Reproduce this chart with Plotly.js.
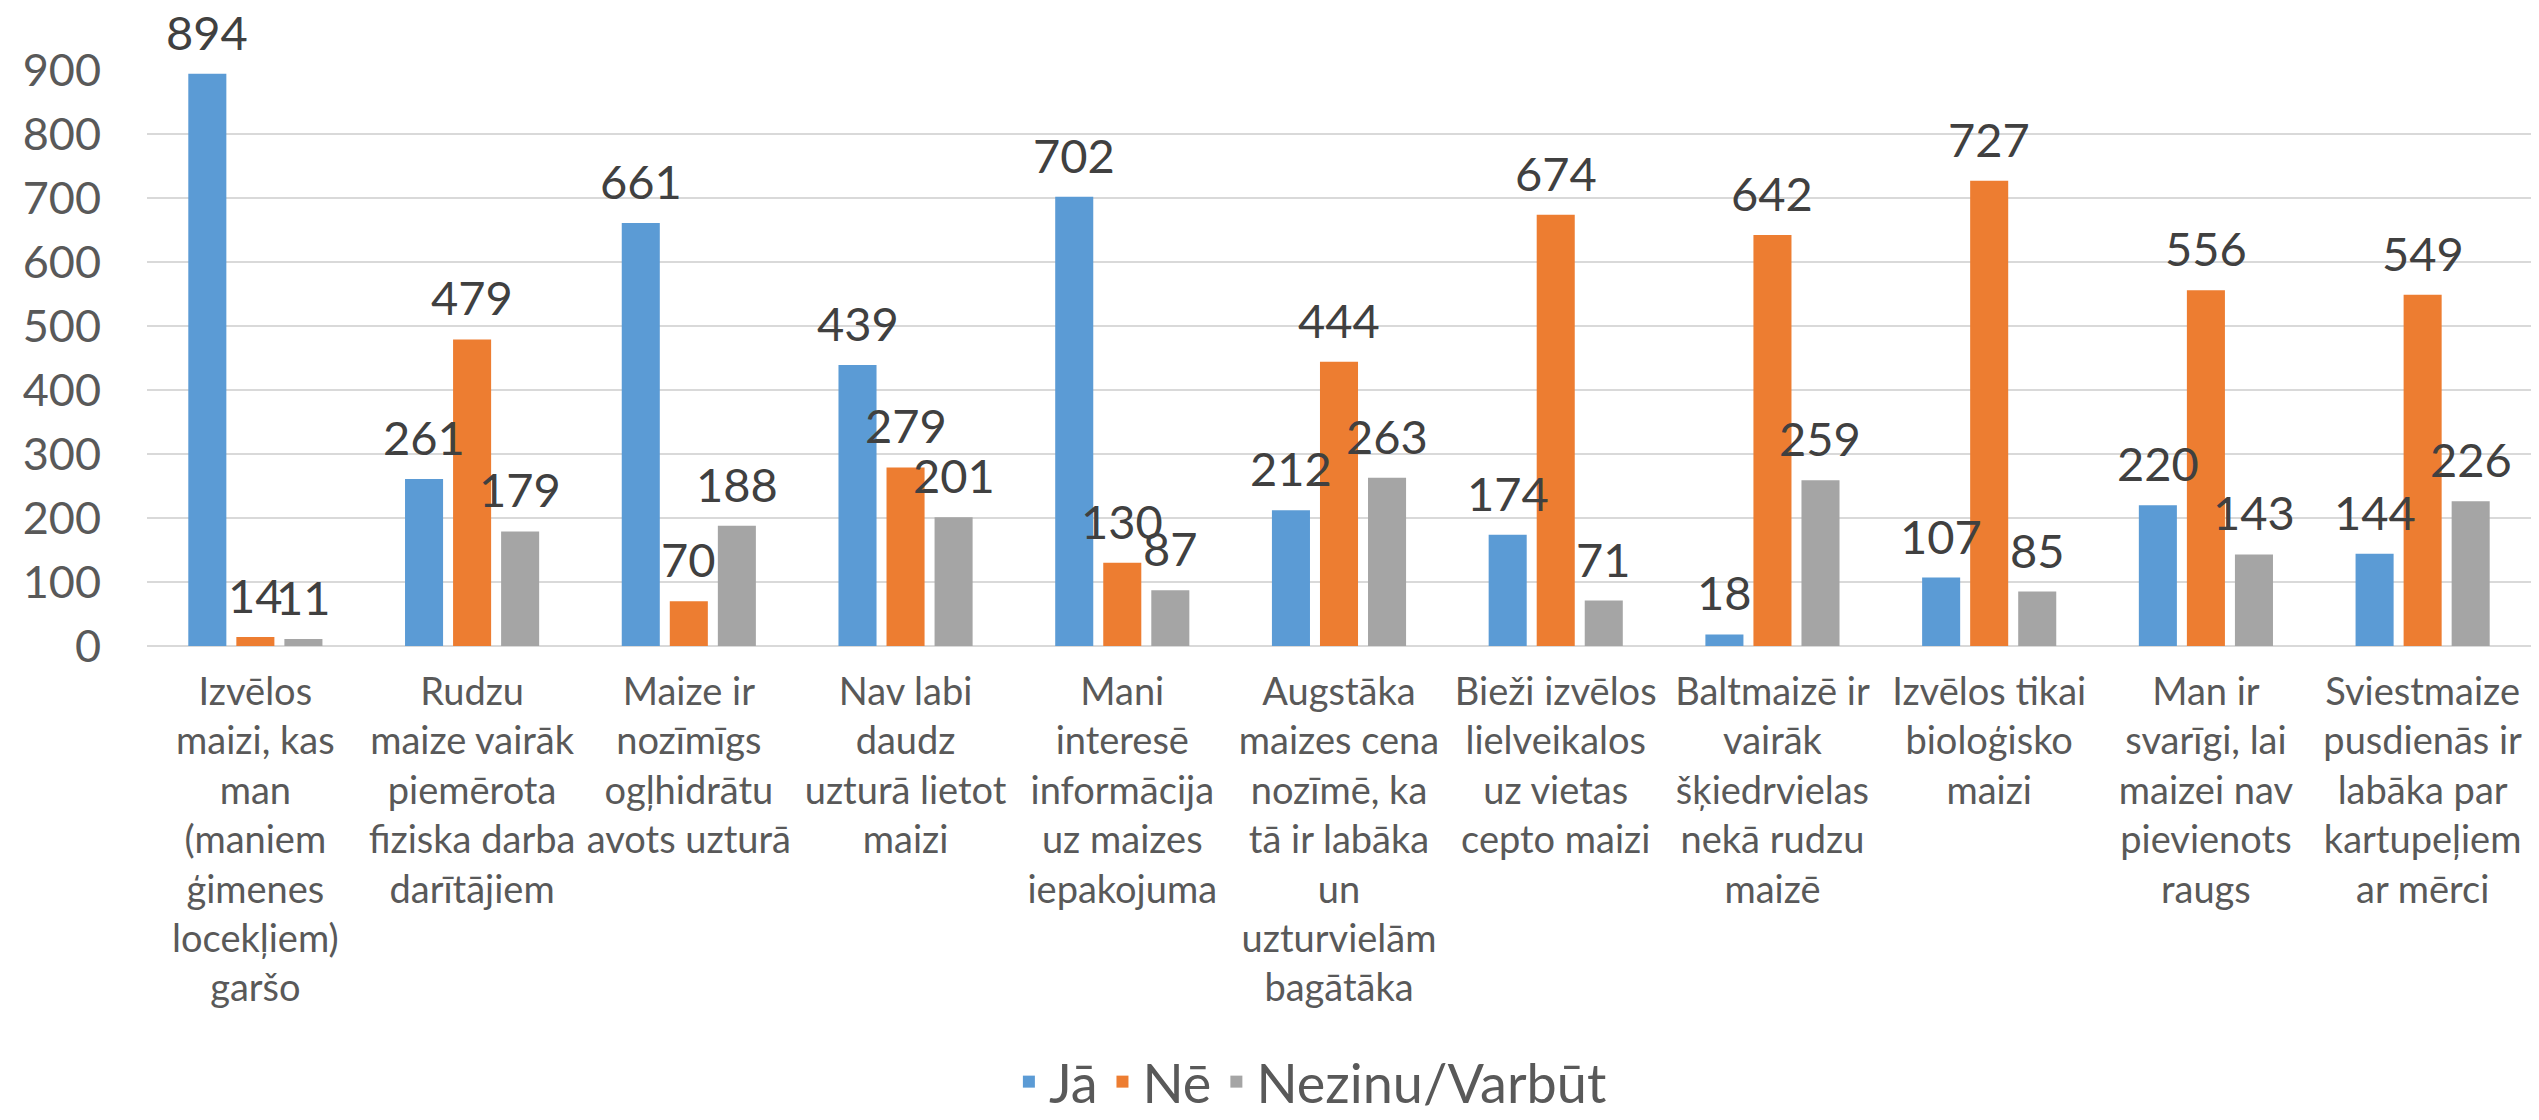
<!DOCTYPE html>
<html>
<head>
<meta charset="utf-8">
<script src="https://cdn.plot.ly/plotly-3.0.1.min.js"></script>
<style>
  html, body { margin: 0; padding: 0; background: #ffffff; }
  #chart { width: 2539px; height: 1120px; }
</style>
</head>
<body>
<div id="chart"></div>
<script>
// ---- data ----
const categories = [
  "Izvēlos<br>maizi, kas<br>man<br>(maniem<br>ģimenes<br>locekļiem)<br>garšo",
  "Rudzu<br>maize vairāk<br>piemērota<br>fiziska darba<br>darītājiem",
  "Maize ir<br>nozīmīgs<br>ogļhidrātu<br>avots uzturā",
  "Nav labi<br>daudz<br>uzturā lietot<br>maizi",
  "Mani<br>interesē<br>informācija<br>uz maizes<br>iepakojuma",
  "Augstāka<br>maizes cena<br>nozīmē, ka<br>tā ir labāka<br>un<br>uzturvielām<br>bagātāka",
  "Bieži izvēlos<br>lielveikalos<br>uz vietas<br>cepto maizi",
  "Baltmaizē ir<br>vairāk<br>šķiedrvielas<br>nekā rudzu<br>maizē",
  "Izvēlos tikai<br>bioloģisko<br>maizi",
  "Man ir<br>svarīgi, lai<br>maizei nav<br>pievienots<br>raugs",
  "Sviestmaize<br>pusdienās ir<br>labāka par<br>kartupeļiem<br>ar mērci"
];
const seriesNames = ["Jā", "Nē", "Nezinu/Varbūt"];
const valuesJa      = [894, 261, 661, 439, 702, 212, 174, 18, 107, 220, 144];
const valuesNe      = [14, 479, 70, 279, 130, 444, 674, 642, 727, 556, 549];
const valuesNezinu  = [11, 179, 188, 201, 87, 263, 71, 259, 85, 143, 226];
const yTickValues   = [0, 100, 200, 300, 400, 500, 600, 700, 800, 900];

// ---- style ----
const colors = ["#5b9bd5", "#ed7d31", "#a5a5a5"];
const FONT = "Lato, 'Open Sans', sans-serif";
const W = 2539, H = 1120;
const M = { l: 147, r: 8, t: 70, b: 474, autoexpand: false };
const BARGAP = 0.335, BARGROUPGAP = 0.208;

const seriesValues = [valuesJa, valuesNe, valuesNezinu];

const traces = seriesValues.map((vals, k) => ({
  type: "bar",
  name: seriesNames[k],
  x: categories,
  y: vals,
  marker: { color: colors[k], line: { width: 0 } },
  hoverinfo: "x+y+name"
}));

// data labels above bars, placed through the axes
const plotW = W - M.l - M.r;
const slot = plotW / categories.length * (1 - BARGAP) / seriesValues.length;
const annotations = [];
seriesValues.forEach((vals, k) => {
  vals.forEach((v, i) => {
    annotations.push({
      xref: "x", yref: "y",
      x: categories[i], y: v,
      text: String(v),
      showarrow: false,
      xanchor: "center", yanchor: "bottom",
      xshift: (k - 1) * slot,
      yshift: 12,
      font: { family: FONT, size: 47, color: "#404040" }
    });
  });
});

const layout = {
  width: W, height: H,
  margin: M,
  paper_bgcolor: "#ffffff",
  plot_bgcolor: "#ffffff",
  barmode: "group",
  bargap: BARGAP,
  bargroupgap: BARGROUPGAP,
  showlegend: true,
  legend: {
    orientation: "h",
    x: 0.488, xanchor: "center",
    y: -0.757, yanchor: "middle",
    font: { family: FONT, size: 54, color: "#595959" },
    itemwidth: 30,
    traceorder: "normal"
  },
  xaxis: {
    type: "category",
    tickangle: 0,
    showgrid: false,
    showline: false,
    zeroline: false,
    ticks: "",
    ticklabelstandoff: 20,
    tickfont: { family: FONT, size: 38, color: "#595959" },
    automargin: false
  },
  yaxis: {
    range: [0, 900],
    tickmode: "array",
    tickvals: yTickValues,
    ticktext: yTickValues.map(String),
    showgrid: true,
    gridcolor: "#d9d9d9",
    gridwidth: 2,
    zeroline: true,
    zerolinecolor: "#d9d9d9",
    zerolinewidth: 2,
    showline: false,
    ticks: "",
    ticklabelstandoff: 45,
    tickfont: { family: FONT, size: 45, color: "#595959" },
    automargin: false
  },
  annotations: annotations,
  font: { family: FONT, color: "#595959" }
};

Plotly.newPlot("chart", traces, layout, { displayModeBar: false, staticPlot: true });
</script>
</body>
</html>
